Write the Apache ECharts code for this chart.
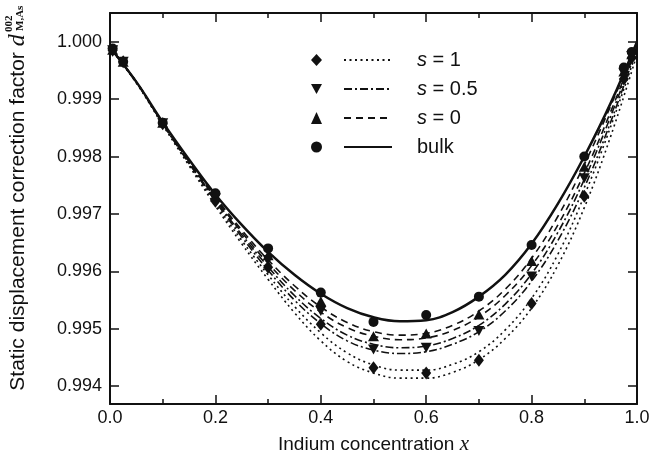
<!DOCTYPE html>
<html>
<head>
<meta charset="utf-8">
<script src="https://cdn.jsdelivr.net/npm/echarts@6/dist/echarts.min.js"></script>
<style>
  html, body { margin: 0; padding: 0; background: #fff; }
  #chart { width: 650px; height: 456px; }
</style>
</head>
<body>
<div id="chart"></div>
<script>
// x grid for the fitted curves
var xs = [0, 0.05, 0.1, 0.15, 0.2, 0.25, 0.3, 0.35, 0.4, 0.45, 0.5, 0.55, 0.6, 0.65, 0.7, 0.75, 0.8, 0.85, 0.9, 0.95, 1.0];

// fitted curves (two per s, one for bulk)
var bulkLine = [0.99990, 0.99930, 0.99860, 0.99795, 0.99734, 0.99681, 0.99634, 0.99594, 0.99561, 0.99536, 0.99520, 0.99513, 0.99515, 0.99529, 0.99556, 0.99594, 0.99648, 0.99718, 0.99800, 0.99893, 1.00000];
var s0aLine = [0.99990, 0.99930, 0.99859, 0.99793, 0.99730, 0.99672, 0.99620, 0.99575, 0.99538, 0.99511, 0.99495, 0.99489, 0.99492, 0.99506, 0.99531, 0.99569, 0.99623, 0.99696, 0.99786, 0.99888, 0.99998];
var s0bLine = [0.99990, 0.99930, 0.99858, 0.99791, 0.99727, 0.99668, 0.99614, 0.99567, 0.99529, 0.99502, 0.99487, 0.99481, 0.99484, 0.99497, 0.99521, 0.99558, 0.99610, 0.99681, 0.99771, 0.99878, 0.99995];
var s05aLine = [0.99990, 0.99930, 0.99858, 0.99790, 0.99725, 0.99664, 0.99608, 0.99558, 0.99518, 0.99489, 0.99473, 0.99467, 0.99470, 0.99483, 0.99506, 0.99543, 0.99596, 0.99668, 0.99760, 0.99870, 0.99993];
var s05bLine = [0.99990, 0.99929, 0.99857, 0.99788, 0.99722, 0.99660, 0.99602, 0.99550, 0.99509, 0.99479, 0.99463, 0.99457, 0.99460, 0.99473, 0.99495, 0.99531, 0.99583, 0.99654, 0.99746, 0.99860, 0.99990];
var s1aLine = [0.99990, 0.99929, 0.99856, 0.99786, 0.99718, 0.99654, 0.99594, 0.99539, 0.99493, 0.99458, 0.99437, 0.99428, 0.99428, 0.99438, 0.99460, 0.99498, 0.99553, 0.99630, 0.99732, 0.99852, 0.99985];
var s1bLine = [0.99990, 0.99928, 0.99855, 0.99784, 0.99714, 0.99648, 0.99586, 0.99528, 0.99479, 0.99443, 0.99423, 0.99414, 0.99414, 0.99424, 0.99446, 0.99483, 0.99536, 0.99611, 0.99711, 0.99835, 0.99978];

// calculated points
var ptX = [0.005, 0.025, 0.1, 0.2, 0.3, 0.4, 0.5, 0.6, 0.7, 0.8, 0.9, 0.975, 0.99];
var s1Pts = [0.99985, 0.99965, 0.99857, 0.99722, 0.99607, 0.99508, 0.99432, 0.99423, 0.99445, 0.99544, 0.99731, 0.99935, 0.99972];
var s05Pts = [0.99985, 0.99965, 0.99858, 0.99727, 0.99620, 0.99531, 0.99464, 0.99467, 0.99496, 0.99591, 0.99762, 0.99945, 0.99975];
var s0Pts = [0.99986, 0.99965, 0.99859, 0.99731, 0.99628, 0.99548, 0.99487, 0.99492, 0.99525, 0.99618, 0.99782, 0.99948, 0.99978];
var bulkPts = [0.99988, 0.99965, 0.99859, 0.99736, 0.99640, 0.99563, 0.99512, 0.99524, 0.99556, 0.99646, 0.99800, 0.99955, 0.99982];

// tick labels
var yTicks = [0.994, 0.995, 0.996, 0.997, 0.998, 0.999, 1.000];

function pairs(xv, yv) {
    var out = [];
    for (var i = 0; i < xv.length; i++) {
        out.push([xv[i], yv[i]]);
    }
    return out;
}

var ink = '#111';
var font = 'Liberation Sans, Arial, sans-serif';
var serif = 'Liberation Serif, serif';

function curve(name, data, type, width) {
    return {
        name: name, type: 'line', smooth: 0.4, symbol: 'none', silent: true,
        data: pairs(xs, data),
        lineStyle: {color: ink, width: width, type: type},
        itemStyle: {color: ink},
        z: 2
    };
}
function points(name, data, symbol, size) {
    return {
        name: name, type: 'scatter', data: pairs(ptX, data),
        symbol: symbol, symbolSize: size,
        itemStyle: {color: ink, opacity: 1}, z: 3
    };
}

var dotted = [2, 3.5];
var dashDot = [8, 3, 2, 3];
var dashed = [7, 5];
var downTri = 'path://M0,0 L10,0 L5,9 Z';

var legendText = {
    fontFamily: font, fontSize: 20, color: ink, lineHeight: 20,
    rich: {
        sp: {width: 20},
        i: {fontFamily: font, fontSize: 20, fontStyle: 'italic', color: ink},
        n: {fontFamily: font, fontSize: 20, color: ink}
    }
};
var legendNames = {'s1': '{sp|}{i|s}{n| = 1}', 's05': '{sp|}{i|s}{n| = 0.5}', 's0': '{sp|}{i|s}{n| = 0}', 'bulk': '{sp|}{n|bulk}'};

var dom = document.getElementById('chart');
var myChart = echarts.init(dom);
var option = {
    backgroundColor: '#fff',
    animation: false,
    grid: {left: 110, right: 13, top: 13, bottom: 52, outerBoundsMode: 'none'},
    legend: [{
        // marker column
        data: ['m1', 'm05', 'm0', 'mb'],
        orient: 'vertical', left: 306, top: 45,
        itemWidth: 11, itemHeight: 12, itemGap: 9,
        formatter: function () { return ' '; },
        textStyle: {fontSize: 20, lineHeight: 20},
        selectedMode: false
    }, {
        // line column, no symbol on the sample
        data: ['s1', 's05', 's0', 'bulk'],
        orient: 'vertical', left: 338, top: 45,
        itemWidth: 48, itemHeight: 12, itemGap: 9,
        itemStyle: {opacity: 0},
        formatter: function (n) { return legendNames[n]; },
        textStyle: legendText,
        selectedMode: false
    }],
    xAxis: [{
        type: 'value', min: 0, max: 1, interval: 0.2,
        name: 'Indium concentration {x|x}', nameLocation: 'middle', nameGap: 30,
        nameTextStyle: {
            fontFamily: font, fontSize: 19, color: ink,
            rich: {x: {fontFamily: serif, fontStyle: 'italic', fontSize: 21, color: ink}}
        },
        axisLine: {onZero: false, lineStyle: {color: ink, width: 2}},
        axisTick: {inside: true, length: 9, lineStyle: {color: ink, width: 1.5}},
        minorTick: {show: true, splitNumber: 2, length: 5, lineStyle: {color: ink, width: 1.5}},
        axisLabel: {fontFamily: font, fontSize: 18, color: ink, margin: 5, formatter: function (v) { return v.toFixed(1); }},
        splitLine: {show: false}
    }, {
        type: 'value', min: 0, max: 1, interval: 0.2, position: 'top',
        axisLine: {onZero: false, lineStyle: {color: ink, width: 2}},
        axisTick: {inside: true, length: 9, lineStyle: {color: ink, width: 1.5}},
        minorTick: {show: true, splitNumber: 2, length: 5, lineStyle: {color: ink, width: 1.5}},
        axisLabel: {show: false},
        splitLine: {show: false}
    }],
    yAxis: [{
        type: 'value', min: 0.99369, max: 1.0005,
        name: '{t|Static displacement correction factor }{d|d}{sp|}',
        nameLocation: 'middle', nameGap: 80, nameRotate: 90,
        nameTextStyle: {
            fontFamily: font, fontSize: 21, color: ink,
            rich: {
                t: {fontFamily: font, fontSize: 21, color: ink},
                d: {fontFamily: serif, fontStyle: 'italic', fontSize: 24, color: ink},
                sp: {width: 8}
            }
        },
        axisLine: {onZero: false, lineStyle: {color: ink, width: 2}},
        axisTick: {inside: true, length: 9, customValues: yTicks, lineStyle: {color: ink, width: 1.5}},
        axisLabel: {fontFamily: font, fontSize: 18, color: ink, margin: 8, customValues: yTicks,
            formatter: function (v) { return v.toFixed(3); }},
        splitLine: {show: false}
    }, {
        type: 'value', min: 0.99369, max: 1.0005, position: 'right',
        axisLine: {onZero: false, lineStyle: {color: ink, width: 2}},
        axisTick: {inside: true, length: 9, customValues: yTicks, lineStyle: {color: ink, width: 1.5}},
        axisLabel: {show: false},
        splitLine: {show: false}
    }],
    graphic: [{
        type: 'text', x: 4, y: 32, rotation: Math.PI / 2,
        style: {text: '002', fontFamily: serif, fontWeight: 'bold', fontSize: 11, fill: ink}
    }, {
        type: 'text', x: 15, y: 31, rotation: Math.PI / 2,
        style: {text: 'M,As', fontFamily: serif, fontWeight: 'bold', fontSize: 11, fill: ink}
    }],
    series: [
        curve('s1', s1aLine, dotted, 1.6),
        curve('s1b', s1bLine, dotted, 1.6),
        curve('s05', s05aLine, dashDot, 1.6),
        curve('s05b', s05bLine, dashDot, 1.6),
        curve('s0', s0aLine, dashed, 1.6),
        curve('s0b', s0bLine, dashed, 1.6),
        curve('bulk', bulkLine, 'solid', 2.5),
        points('m1', s1Pts, 'diamond', [10, 13]),
        points('m05', s05Pts, downTri, [11, 10]),
        points('m0', s0Pts, 'triangle', [11, 10]),
        points('mb', bulkPts, 'circle', 10)
    ]
};
myChart.setOption(option);
</script>
</body>
</html>
